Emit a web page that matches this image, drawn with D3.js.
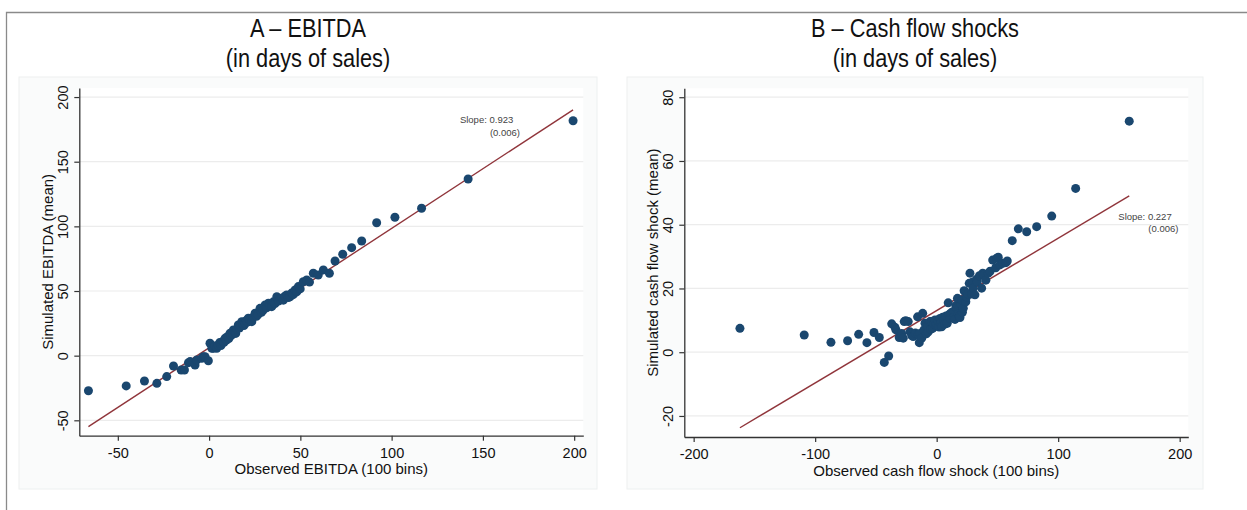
<!DOCTYPE html>
<html>
<head>
<meta charset="utf-8">
<script src="https://cdn.jsdelivr.net/npm/d3@7"></script>
<style>
  body { margin: 0; background: #fff; }
  svg { display: block; font-family: "Liberation Sans", Arial, sans-serif; }
</style>
</head>
<body>
<script>
// ---- panel A : EBITDA (observed bin -> simulated mean)
var ebitdaObserved = [-66.1, -45.4, -35.4, -28.6, -23.2, -19.5, -15.3, -13.5, -11.3, -10.4,
  -7.7, -6.7, -4.0, -3.1, -2.2, -0.4, 0.5, 1.5, 2.4, 3.2,
  4.2, 5.0, 5.8, 6.5, 7.0, 7.6, 8.2, 8.8, 9.5, 10.2,
  10.8, 11.5, 12.1, 12.8, 13.3, 14.0, 14.6, 15.2, 16.0, 16.6,
  17.2, 17.9, 18.5, 19.1, 19.7, 20.4, 21.0, 21.5, 22.3, 23.4,
  24.2, 25.2, 26.0, 26.8, 27.9, 28.7, 29.6, 30.7, 31.5, 32.5,
  33.3, 34.3, 35.2, 36.1, 37.1, 38.0, 39.0, 39.8, 40.7, 41.5,
  42.5, 43.4, 44.3, 45.2, 46.1, 47.1, 48.0, 48.9, 49.9, 51.6,
  53.5, 55.0, 57.1, 59.8, 62.6, 65.9, 69.0, 73.2, 78.1, 83.6,
  91.8, 101.8, 116.4, 141.9, 199.4];
var ebitdaSimulated = [-27.1, -23.4, -19.6, -21.4, -16.2, -8.0, -11.1, -11.1, -5.4, -4.6,
  -7.2, -3.3, -2.0, -0.8, -0.8, -3.9, 9.6, 5.7, 5.7, 7.5,
  5.7, 8.2, 10.1, 7.9, 9.6, 11.2, 10.4, 13.5, 12.1, 14.8,
  13.2, 17.3, 15.6, 16.9, 19.9, 18.1, 17.2, 20.5, 23.7, 21.4,
  22.8, 26.3, 24.1, 23.3, 25.0, 27.2, 25.9, 28.9, 27.5, 26.3,
  29.8, 32.8, 30.4, 31.7, 36.6, 33.6, 35.1, 39.2, 37.0, 40.5,
  38.6, 37.9, 41.6, 40.2, 45.6, 42.3, 43.8, 44.4, 42.9, 46.0,
  46.9, 45.0, 45.6, 48.4, 47.2, 50.8, 49.3, 53.4, 51.6, 57.2,
  58.5, 56.9, 63.7, 62.4, 66.3, 63.7, 73.2, 78.4, 83.5, 88.7,
  102.8, 107.0, 114.0, 136.6, 181.7];
var ebitdaFit = [6.1, 0.923];            // intercept, slope
var ebitdaNote = ["Slope: 0.923", "(0.006)"];
var ebitdaNoteAt = [137.4, 179.7];       // data coords of the note
var ebitdaXTicks = [-50, 0, 50, 100, 150, 200];
var ebitdaYTicks = [-50, 0, 50, 100, 150, 200];

// ---- panel B : cash flow shocks
var cashObserved = [-161.9, -109.0, -87.0, -73.3, -64.2, -57.4, -51.6, -47.2, -43.1, -39.5,
  -37.0, -34.3, -33.5, -30.8, -28.8, -27.5, -26.7, -25.5, -23.4, -22.0,
  -20.5, -19.3, -17.5, -15.7, -15.1, -14.3, -13.7, -12.3, -11.5, -10.5,
  -9.6, -8.5, -7.6, -6.9, -5.5, -4.8, -4.1, -3.3, -2.4, -1.4,
  -0.6, 0.5, 1.2, 2.0, 2.7, 3.4, 4.1, 5.0, 6.0, 6.8,
  7.7, 8.7, 9.5, 10.2, 10.9, 11.8, 13.2, 14.0, 15.1, 15.8,
  16.5, 17.1, 17.8, 18.6, 19.2, 20.0, 20.6, 21.2, 21.9, 22.6,
  23.3, 24.0, 24.7, 25.8, 26.8, 27.4, 28.8, 29.5, 30.1, 31.5,
  32.9, 33.4, 35.2, 37.0, 37.9, 38.9, 40.5, 42.5, 44.0, 46.1,
  48.6, 49.4, 50.7, 52.1, 54.3, 57.0, 58.1, 62.2, 67.2, 74.1,
  82.3, 94.7, 114.4, 158.5];
var cashSimulated = [7.5, 5.4, 3.1, 3.6, 5.6, 3.0, 6.2, 4.6, -3.2, -1.2,
  8.9, 7.8, 7.0, 4.6, 5.9, 4.4, 9.6, 9.9, 9.6, 6.4,
  5.2, 4.9, 6.0, 11.1, 5.5, 3.0, 5.9, 4.4, 12.2, 7.0,
  9.1, 5.8, 8.2, 6.4, 9.6, 7.3, 9.6, 7.5, 8.9, 10.1,
  8.5, 8.5, 9.8, 7.9, 10.6, 9.2, 8.0, 11.0, 10.1, 8.8,
  11.4, 9.1, 15.5, 11.8, 10.6, 12.3, 12.7, 10.9, 10.3, 14.6,
  13.8, 16.9, 12.0, 11.3, 10.9, 15.1, 16.4, 12.5, 13.8, 19.3,
  19.0, 15.8, 17.4, 18.3, 21.6, 24.8, 18.3, 22.0, 20.1, 18.0,
  22.9, 22.1, 24.0, 20.1, 24.8, 24.2, 22.6, 24.8, 25.4, 28.9,
  26.5, 29.5, 29.8, 27.4, 27.9, 28.1, 28.6, 35.0, 38.7, 37.8,
  39.4, 42.7, 51.4, 72.5];
var cashFit = [13.05, 0.227];
var cashNote = ["Slope: 0.227", "(0.006)"];
var cashNoteAt = [149.5, 41.5];
var cashXTicks = [-200, -100, 0, 100, 200];
var cashYTicks = [-20, 0, 20, 40, 60, 80];

var panelTitles = [["A \u2013 EBITDA", "(in days of sales)"], ["B \u2013 Cash flow shocks", "(in days of sales)"]];
var xTitles = ["Observed EBITDA (100 bins)", "Observed cash flow shock (100 bins)"];
var yTitles = ["Simulated EBITDA (mean)", "Simulated cash flow shock (mean)"];

var W = 1247, H = 510;
var navy = "#1a476f", maroon = "#90353b", axisCol = "#333333";

var svg = d3.select("body").append("svg").attr("width", W).attr("height", H);

// outer frame (top rule + left rule of the page)
svg.append("path").attr("d", `M6.5 ${H} L6.5 12.5 L${W} 12.5`)
  .style("fill", "none").style("stroke", "#8a8a8a").style("stroke-width", 1.3);

function drawPanel(p){
  var g = svg.append("g");

  // graph region box
  g.append("rect").attr("x", p.box[0]).attr("y", p.box[1])
    .attr("width", p.box[2] - p.box[0]).attr("height", p.box[3] - p.box[1])
    .style("fill", "#fafbfb").style("stroke", "#edf0f0");

  var x = d3.scaleLinear().domain(p.xDom).range([p.left, p.right]);
  var y = d3.scaleLinear().domain(p.yDom).range([p.bottom, p.top]);

  g.append("rect").attr("x", p.left).attr("y", p.top)
    .attr("width", p.right - p.left).attr("height", p.bottom - p.top)
    .style("fill", "#fff");

  // titles
  var cx = (p.box[0] + p.box[2]) / 2;
  p.title.forEach(function(t, i){
    g.append("text").text(t)
      .attr("transform", `translate(${cx}, ${37 + i * 30}) scale(0.87, 1)`)
      .attr("text-anchor", "middle")
      .style("font-size", "25px").style("fill", "#111");
  });

  // gridlines
  g.selectAll(".grid").data(p.yTicks).enter().append("line")
    .attr("x1", p.left).attr("x2", p.right)
    .attr("y1", function(d){ return y(d); }).attr("y2", function(d){ return y(d); })
    .style("stroke", "#ececec").style("stroke-width", 1.2);

  // x axis
  var xa = g.append("g").attr("transform", `translate(0, ${p.bottom})`)
    .call(d3.axisBottom(x).tickValues(p.xTicks).tickSize(5).tickSizeOuter(0)
      .tickFormat(function(d){ return String(d); }));
  xa.selectAll("text").attr("y", 22).attr("dy", null)
    .style("font-size", "14.5px").style("fill", "#111");

  // y axis, labels turned
  var ya = g.append("g").attr("transform", `translate(${p.left}, 0)`)
    .call(d3.axisLeft(y).tickValues(p.yTicks).tickSize(5).tickSizeOuter(0)
      .tickFormat(function(d){ return String(d); }));
  ya.selectAll("text").attr("x", null).attr("dy", null)
    .attr("transform", "translate(-11, 0) rotate(-90)")
    .attr("text-anchor", "middle")
    .style("font-size", "14.5px").style("fill", "#111");

  [xa, ya].forEach(function(a){
    a.select(".domain").style("stroke", axisCol).style("stroke-width", 1.3);
    a.selectAll(".tick line").style("stroke", axisCol).style("stroke-width", 1.2);
    a.style("font-family", null);
  });

  // axis titles
  g.append("text").text(p.xTitle)
    .attr("x", (p.left + p.right) / 2).attr("y", p.bottom + 38.5)
    .attr("text-anchor", "middle").style("font-size", "15px").style("fill", "#111");
  g.append("text").text(p.yTitle)
    .attr("transform", `translate(${p.left - 26.5}, ${(p.top + p.bottom) / 2}) rotate(-90)`)
    .attr("text-anchor", "middle").style("font-size", "15px").style("fill", "#111");

  // fitted line across the observed range
  var ext = d3.extent(p.xs);
  g.append("line")
    .attr("x1", x(ext[0])).attr("y1", y(p.fit[0] + p.fit[1] * ext[0]))
    .attr("x2", x(ext[1])).attr("y2", y(p.fit[0] + p.fit[1] * ext[1]))
    .style("stroke", maroon).style("stroke-width", 1.4);

  // markers
  var pts = p.xs.map(function(v, i){ return [v, p.ys[i]]; });
  g.selectAll(".dot").data(pts).enter().append("circle")
    .attr("cx", function(d){ return x(d[0]); })
    .attr("cy", function(d){ return y(d[1]); })
    .attr("r", 4.5)
    .style("fill", navy);

  // slope note
  var nx = x(p.noteAt[0]), ny = y(p.noteAt[1]);
  g.append("text").text(p.note[0]).attr("x", nx).attr("y", ny)
    .style("font-size", "9.5px").style("fill", "#444");
  g.append("text").text(p.note[1]).attr("x", nx + 30).attr("y", ny + 12.3)
    .style("font-size", "9.5px").style("fill", "#444");
}

drawPanel({
  box: [19, 77, 597, 489],
  left: 79.3, right: 583.3, top: 88, bottom: 435.7,
  xDom: [-71.1, 205.0], yDom: [-61.9, 207],
  xTicks: ebitdaXTicks, yTicks: ebitdaYTicks,
  xs: ebitdaObserved, ys: ebitdaSimulated, fit: ebitdaFit,
  note: ebitdaNote, noteAt: ebitdaNoteAt,
  title: panelTitles[0], xTitle: xTitles[0], yTitle: yTitles[0]
});

drawPanel({
  box: [627, 77, 1203, 489],
  left: 684.3, right: 1188.3, top: 88.3, bottom: 437,
  xDom: [-207.7, 207.1], yDom: [-26.6, 82.8],
  xTicks: cashXTicks, yTicks: cashYTicks,
  xs: cashObserved, ys: cashSimulated, fit: cashFit,
  note: cashNote, noteAt: cashNoteAt,
  title: panelTitles[1], xTitle: xTitles[1], yTitle: yTitles[1]
});
</script>
</body>
</html>
